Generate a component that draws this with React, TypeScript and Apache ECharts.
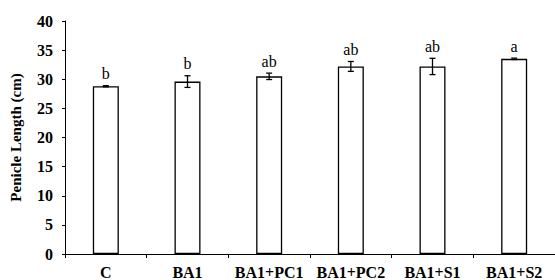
import React, { useEffect, useRef } from "react";
import * as echarts from "echarts";

const categories = ["C", "BA1", "BA1+PC1", "BA1+PC2", "BA1+S1", "BA1+S2"];
const values = [28.8, 29.6, 30.5, 32.2, 32.2, 33.5];
const errors = [0.1, 1.0, 0.55, 0.85, 1.4, 0.12];
const letters = ["b", "b", "ab", "ab", "ab", "a"];
const yTicks = [0, 5, 10, 15, 20, 25, 30, 35, 40];

const FONT = "'Liberation Serif', 'Times New Roman', serif";

export default function App() {
  const ref = useRef<HTMLDivElement>(null);
  useEffect(() => {
    if (!ref.current) return;
    const chart = echarts.init(ref.current, undefined, { renderer: "svg" });
    chart.setOption({
      animation: false,
      backgroundColor: "#ffffff",
      grid: { left: 61, right: -2, top: 21, bottom: 25, containLabel: false },
      xAxis: {
        type: "category",
        data: categories,
        axisLine: { lineStyle: { color: "#000", width: 1 } },
        axisTick: { show: true, length: 4, lineStyle: { color: "#000" } },
        axisLabel: {
          interval: 0,
          color: "#000",
          fontFamily: FONT,
          fontWeight: "bold",
          fontSize: 16,
          margin: 10,
        },
      },
      yAxis: {
        type: "value",
        min: yTicks[0],
        max: yTicks[yTicks.length - 1],
        interval: 5,
        name: "Penicle Length (cm)",
        nameLocation: "middle",
        nameGap: 42,
        nameTextStyle: {
          color: "#000",
          fontFamily: FONT,
          fontWeight: "bold",
          fontSize: 15,
        },
        axisLine: { show: true, lineStyle: { color: "#000", width: 1 } },
        axisTick: { show: true, length: 3, lineStyle: { color: "#000" } },
        splitLine: { show: false },
        axisLabel: {
          color: "#000",
          fontFamily: FONT,
          fontWeight: "bold",
          fontSize: 16,
          margin: 12,
        },
      },
      series: [
        {
          type: "bar",
          data: values,
          barWidth: 26,
          itemStyle: { color: "#ffffff", borderColor: "#000", borderWidth: 1.3 },
          z: 2,
        },
        {
          type: "custom",
          data: values.map((v, i) => [i, v, errors[i]]),
          z: 3,
          renderItem: (params: any, api: any) => {
            const i = api.value(0);
            const v = api.value(1);
            const e = api.value(2);
            const letter = letters[params.dataIndex];
            const top = api.coord([i, v + e]);
            const bot = api.coord([i, v - e]);
            const x = top[0];
            const cap = 3;
            const lineStyle = { stroke: "#000", lineWidth: 1.3 };
            return {
              type: "group",
              children: [
                { type: "line", shape: { x1: x, y1: top[1], x2: x, y2: bot[1] }, style: lineStyle },
                { type: "line", shape: { x1: x - cap, y1: top[1], x2: x + cap, y2: top[1] }, style: lineStyle },
                { type: "line", shape: { x1: x - cap, y1: bot[1], x2: x + cap, y2: bot[1] }, style: lineStyle },
                {
                  type: "text",
                  x: x,
                  y: top[1] - 4,
                  style: {
                    text: letter,
                    fill: "#000",
                    font: `16px ${FONT}`,
                    textAlign: "center",
                    textVerticalAlign: "bottom",
                  },
                },
              ],
            };
          },
        },
      ],
    });
    return () => chart.dispose();
  }, []);
  return (
    <div
      ref={ref}
      style={{ position: "absolute", left: 0, top: 0, width: 555, height: 280 }}
    />
  );
}
